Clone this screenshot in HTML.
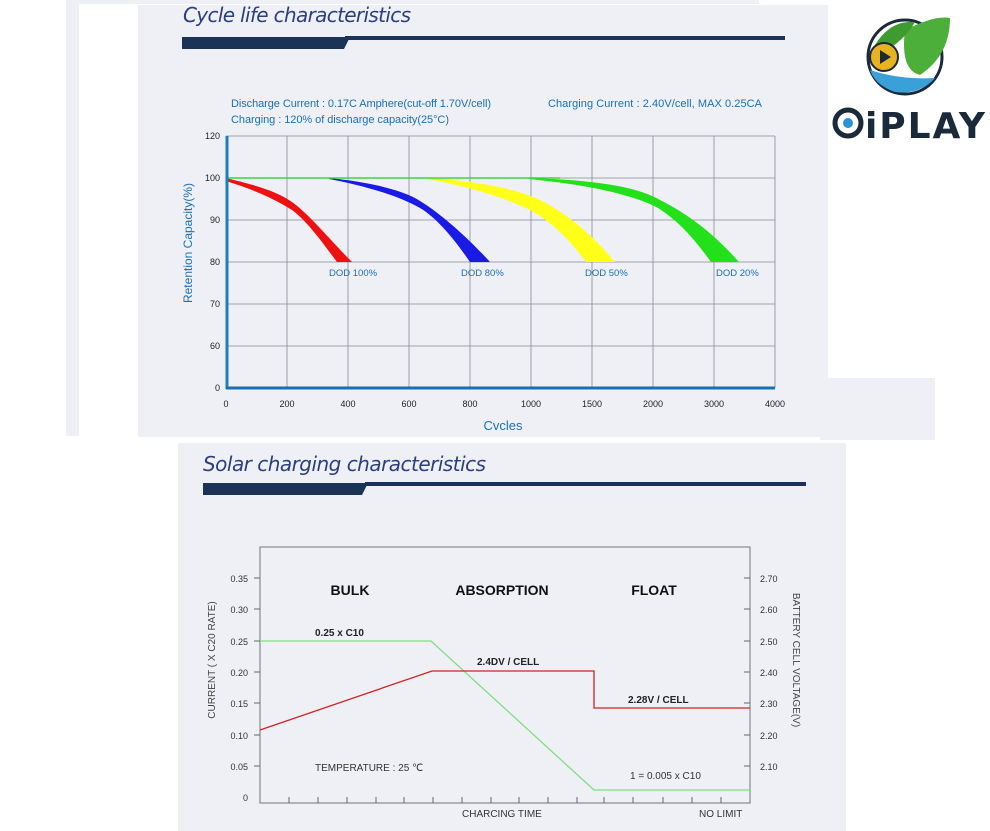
<!DOCTYPE html>
<html><head><meta charset="utf-8"><style>
body{margin:0;background:#fff;}
svg{display:block;font-family:"Liberation Sans",sans-serif;}
</style></head><body>
<svg width="990" height="831" viewBox="0 0 990 831" xmlns="http://www.w3.org/2000/svg">
<rect x="0" y="0" width="990" height="831" fill="#fff"/>
<rect x="66" y="0" width="13" height="436" fill="#eef0f6"/>
<rect x="79" y="0" width="680" height="4" fill="#eef0f6"/>
<rect x="138" y="5" width="690" height="432" fill="#eef0f6"/>
<rect x="820" y="378" width="115" height="62" fill="#eef0f6"/>
<rect x="178" y="443" width="668" height="388" fill="#eef0f6"/>

<text x="183" y="22" font-size="20" font-style="italic" fill="#2b3f7e" font-family="DejaVu Sans, sans-serif" textLength="228">Cycle life characteristics</text>
<polygon points="182,37 350,37 344,49 182,49" fill="#1c3358"/>
<rect x="345" y="36" width="440" height="4" fill="#1c3358"/>

<g font-size="11" fill="#1a6fb5">
<text x="231" y="107" textLength="260">Discharge Current : 0.17C Amphere(cut-off 1.70V/cell)</text>
<text x="548" y="107" textLength="214">Charging Current : 2.40V/cell, MAX 0.25CA</text>
<text x="231" y="123" textLength="218">Charging : 120% of discharge capacity(25°C)</text>
</g>

<g stroke="#8a8a92" stroke-width="0.8">
<line x1="287" y1="136" x2="287" y2="388"/><line x1="348" y1="136" x2="348" y2="388"/>
<line x1="409" y1="136" x2="409" y2="388"/><line x1="470" y1="136" x2="470" y2="388"/>
<line x1="531" y1="136" x2="531" y2="388"/><line x1="592" y1="136" x2="592" y2="388"/>
<line x1="653" y1="136" x2="653" y2="388"/><line x1="714" y1="136" x2="714" y2="388"/>
<line x1="775" y1="136" x2="775" y2="388"/>
<line x1="226" y1="136" x2="775" y2="136"/><line x1="226" y1="178" x2="775" y2="178"/>
<line x1="226" y1="220" x2="775" y2="220"/><line x1="226" y1="262" x2="775" y2="262"/>
<line x1="226" y1="304" x2="775" y2="304"/><line x1="226" y1="346" x2="775" y2="346"/>
</g>
<!-- green -->
<path d="M529,178 C600,180 640,188 660,200 C690,215 715,235 739,262 L711,262 C695,240 680,222 658,208 C630,193 580,184 529,179 Z" fill="#22e01a"/>
<!-- yellow -->
<path d="M427,178 C480,181 520,190 540,200 C570,215 595,238 615,262 L586,262 C570,240 552,222 530,210 C500,195 460,185 427,179 Z" fill="#ffff1a"/>
<!-- blue -->
<path d="M329,178 C370,182 400,190 415,198 C440,212 470,240 490,262 L470,262 C455,240 437,218 420,208 C395,194 360,185 329,179 Z" fill="#1a1ae6"/>
<!-- red -->
<path d="M226,178 C250,184 275,190 292,202 C310,215 330,240 352,262 L337,262 C322,242 308,222 292,210 C270,196 248,188 226,181 Z" fill="#ee1111"/>
<line x1="226" y1="178" x2="560" y2="178" stroke="#3ad83a" stroke-width="1.5"/>

<line x1="227" y1="136" x2="227" y2="389" stroke="#1a7fc1" stroke-width="3"/>
<line x1="226" y1="388" x2="775" y2="388" stroke="#1a6fb0" stroke-width="3"/>
<g font-size="9" fill="#222" text-anchor="end">
<text x="220" y="139">120</text><text x="220" y="181">100</text><text x="220" y="223">90</text>
<text x="220" y="265">80</text><text x="220" y="307">70</text><text x="220" y="349">60</text><text x="220" y="391">0</text>
</g>
<g font-size="9" fill="#222" text-anchor="middle">
<text x="226" y="407">0</text><text x="287" y="407">200</text><text x="348" y="407">400</text>
<text x="409" y="407">600</text><text x="470" y="407">800</text><text x="531" y="407">1000</text>
<text x="592" y="407">1500</text><text x="653" y="407">2000</text><text x="714" y="407">3000</text><text x="775" y="407">4000</text>
</g>
<g font-size="9.5" fill="#1a6fb5">
<text x="329" y="276">DOD 100%</text><text x="461" y="276">DOD 80%</text>
<text x="585" y="276">DOD 50%</text><text x="716" y="276">DOD 20%</text>
</g>
<text x="503" y="430" font-size="13" fill="#1a6fb5" text-anchor="middle">Cvcles</text>
<text transform="translate(192,243) rotate(-90)" font-size="12" fill="#1a6fb5" text-anchor="middle">Retention Capacity(%)</text>

<!-- logo -->
<circle cx="905" cy="57" r="37" fill="#fff" stroke="#1b2a3a" stroke-width="3"/>
<path d="M905,30 Q935,15 950,18 Q950,55 920,75 Q900,70 905,30Z" fill="#4caf3a"/>
<path d="M875,45 Q890,20 915,22 Q905,40 880,55Z" fill="#3f9a2f"/>
<path d="M870,70 Q900,80 935,78 Q920,95 895,92 Q875,85 870,70Z" fill="#3aa0d8"/>
<circle cx="884" cy="57" r="14" fill="#e7b321" stroke="#1b2a3a" stroke-width="2"/>
<polygon points="880,50 891,57 880,64" fill="#1b2a3a"/>
<circle cx="848" cy="123" r="13" fill="none" stroke="#1b2a3a" stroke-width="5"/>
<circle cx="848" cy="123" r="5" fill="#2a93d5"/>
<text x="865" y="138" font-size="36" font-weight="bold" fill="#1b2a3a" textLength="120" font-family="DejaVu Sans, sans-serif">iPLAY</text>

<text x="203" y="471" font-size="20" font-style="italic" fill="#2b3f7e" font-family="DejaVu Sans, sans-serif" textLength="283">Solar charging characteristics</text>
<polygon points="203,483 368,483 362,495 203,495" fill="#1c3358"/>
<rect x="365" y="482" width="441" height="4" fill="#1c3358"/>

<rect x="260" y="547" width="490" height="256" fill="none" stroke="#888" stroke-width="1.2"/>
<g stroke="#666" stroke-width="1">
<line x1="254" y1="578" x2="260" y2="578"/><line x1="254" y1="609" x2="260" y2="609"/>
<line x1="254" y1="641" x2="260" y2="641"/><line x1="254" y1="672" x2="260" y2="672"/>
<line x1="254" y1="703" x2="260" y2="703"/><line x1="254" y1="735" x2="260" y2="735"/>
<line x1="254" y1="766" x2="260" y2="766"/>
<line x1="744" y1="578" x2="750" y2="578"/><line x1="744" y1="609" x2="750" y2="609"/>
<line x1="744" y1="641" x2="750" y2="641"/><line x1="744" y1="672" x2="750" y2="672"/>
<line x1="744" y1="703" x2="750" y2="703"/><line x1="744" y1="735" x2="750" y2="735"/>
<line x1="744" y1="766" x2="750" y2="766"/>
<path d="M289,803v-6M318,803v-6M347,803v-6M376,803v-6M404,803v-6M433,803v-6M462,803v-6M491,803v-6M519,803v-6M548,803v-6M577,803v-6M604,803v-6M633,803v-6M663,803v-6M692,803v-6M721,803v-6"/>
</g>
<g font-size="9" fill="#333" text-anchor="end">
<text x="248" y="582">0.35</text><text x="248" y="613">0.30</text><text x="248" y="645">0.25</text>
<text x="248" y="676">0.20</text><text x="248" y="707">0.15</text><text x="248" y="739">0.10</text>
<text x="248" y="770">0.05</text><text x="248" y="801">0</text>
</g>
<g font-size="9" fill="#333">
<text x="760" y="582">2.70</text><text x="760" y="613">2.60</text><text x="760" y="645">2.50</text>
<text x="760" y="676">2.40</text><text x="760" y="707">2.30</text><text x="760" y="739">2.20</text>
<text x="760" y="770">2.10</text>
</g>
<text transform="translate(215,660) rotate(-90)" font-size="10" fill="#444" text-anchor="middle">CURRENT ( X C20 RATE)</text>
<text transform="translate(793,660) rotate(90)" font-size="10" fill="#444" text-anchor="middle">BATTERY CELL VOLTAGE(V)</text>
<g font-size="14" font-weight="bold" fill="#111" text-anchor="middle">
<text x="350" y="595">BULK</text><text x="502" y="595">ABSORPTION</text><text x="654" y="595">FLOAT</text>
</g>
<polyline points="260,641 431,641 594,790 750,790" fill="none" stroke="#7ee07e" stroke-width="1.3"/>
<polyline points="260,730 432,671 594,671 594,708 750,708" fill="none" stroke="#d42020" stroke-width="1.3"/>
<g font-size="10" font-weight="bold" fill="#222">
<text x="315" y="636">0.25 x C10</text><text x="477" y="665">2.4DV / CELL</text><text x="628" y="703">2.28V / CELL</text>
</g>
<g font-size="10" fill="#333">
<text x="315" y="771">TEMPERATURE : 25 ℃</text><text x="630" y="779">1 = 0.005 x C10</text>
<text x="462" y="817">CHARCING TIME</text><text x="699" y="817">NO LIMIT</text>
</g>
</svg>
</body></html>
